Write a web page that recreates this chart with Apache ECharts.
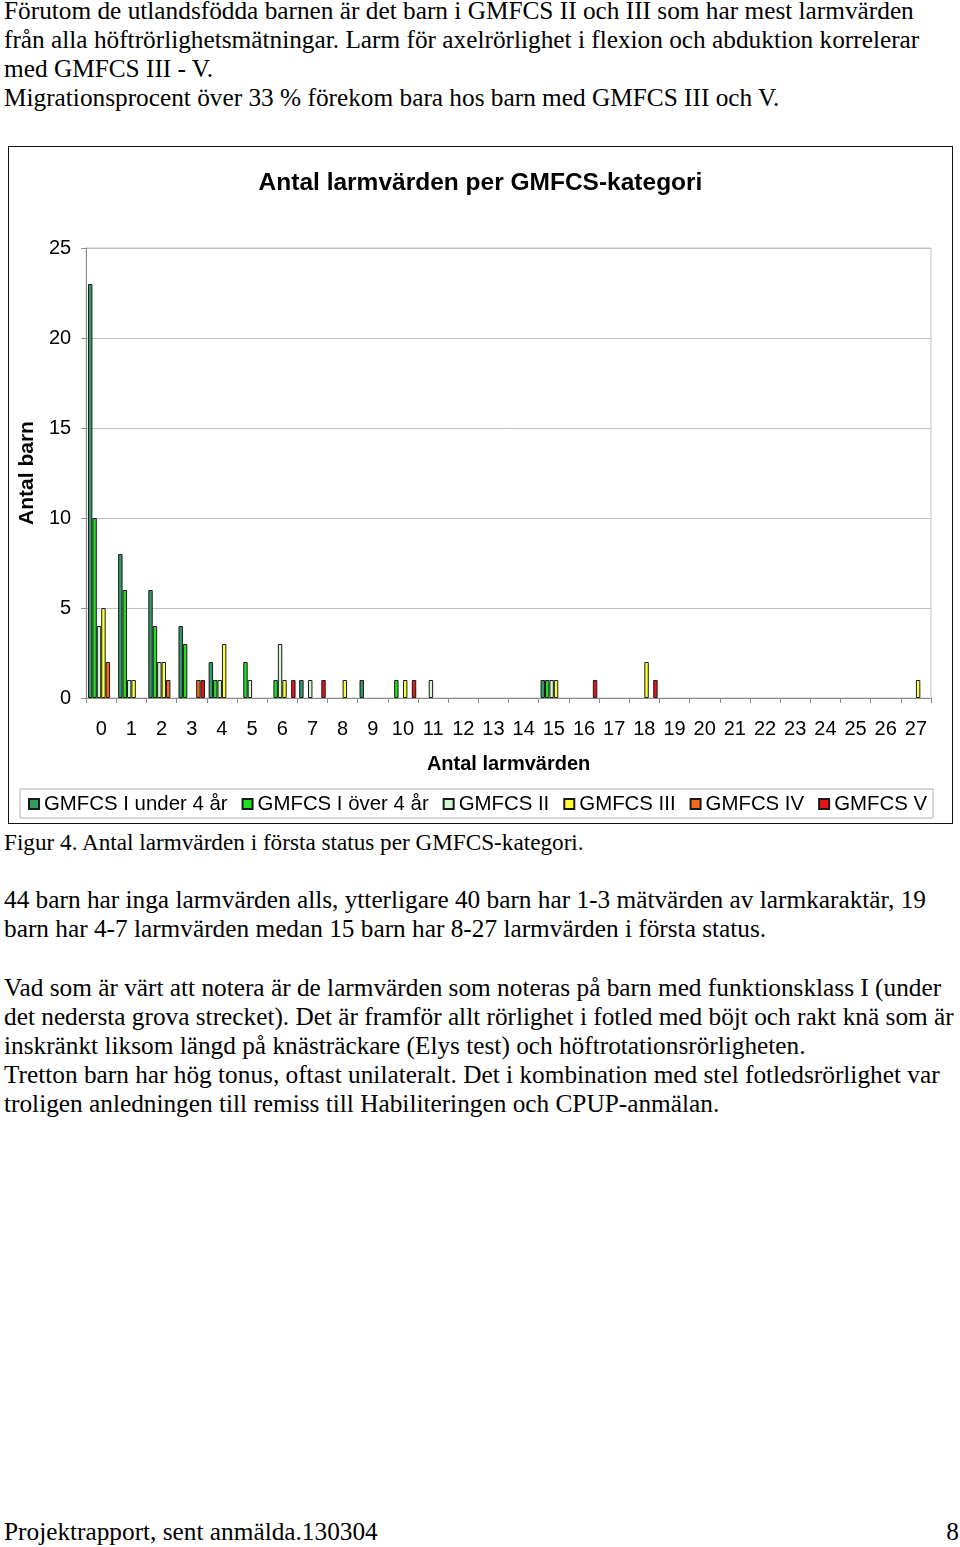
<!DOCTYPE html>
<html>
<head>
<meta charset="utf-8">
<script src="https://cdn.jsdelivr.net/npm/echarts@6/dist/echarts.min.js"></script>
<style>
  html, body { margin: 0; padding: 0; background: #fff; }
  body { width: 960px; height: 1547px; position: relative; overflow: hidden; }
  .t { position: absolute; left: 4px; font-family: "Liberation Serif", "Times New Roman", serif; font-size: 25.3px; line-height: 29px; white-space: nowrap; color: #000; }
  .cap { font-size: 23.2px; }
  #chart { position: absolute; left: 8px; top: 146px; width: 945px; height: 678px; box-sizing: border-box; border: 1px solid #111; }
</style>
</head>
<body>
<div class="t" style="top:-4px">Förutom de utlandsfödda barnen är det barn i GMFCS II och III som har mest larmvärden</div>
<div class="t" style="top:25px">från alla höftrörlighetsmätningar. Larm för axelrörlighet i flexion och abduktion korrelerar</div>
<div class="t" style="top:54px">med GMFCS III - V.</div>
<div class="t" style="top:83px">Migrationsprocent över 33 % förekom bara hos barn med GMFCS III och V.</div>
<div id="chart"></div>
<div class="t cap" style="top:828px">Figur 4. Antal larmvärden i första status per GMFCS-kategori.</div>
<div class="t" style="top:885px">44 barn har inga larmvärden alls, ytterligare 40 barn har 1-3 mätvärden av larmkaraktär, 19</div>
<div class="t" style="top:914px">barn har 4-7 larmvärden medan 15 barn har 8-27 larmvärden i första status.</div>
<div class="t" style="top:973px">Vad som är värt att notera är de larmvärden som noteras på barn med funktionsklass I (under</div>
<div class="t" style="top:1002px">det nedersta grova strecket). Det är framför allt rörlighet i fotled med böjt och rakt knä som är</div>
<div class="t" style="top:1031px">inskränkt liksom längd på knästräckare (Elys test) och höftrotationsrörligheten.</div>
<div class="t" style="top:1060px">Tretton barn har hög tonus, oftast unilateralt. Det i kombination med stel fotledsrörlighet var</div>
<div class="t" style="top:1089px">troligen anledningen till remiss till Habiliteringen och CPUP-anmälan.</div>
<div class="t" style="top:1517px">Projektrapport, sent anmälda.130304</div>
<div class="t" style="top:1517px; left:auto; right:1px">8</div>
<script>
// Categories: number of alarm values (0..27)
const categories = ['0','1','2','3','4','5','6','7','8','9','10','11','12','13','14','15','16','17','18','19','20','21','22','23','24','25','26','27'];
const seriesNames = ['GMFCS I under 4 år', 'GMFCS I över 4 år', 'GMFCS II', 'GMFCS III', 'GMFCS IV', 'GMFCS V'];
const gmfcsIUnder4 = [23, 8, 6, 4, 2, 0, 0, 1, 0, 1, 0, 0, 0, 0, 0, 1, 0, 0, 0, 0, 0, 0, 0, 0, 0, 0, 0, 0];
const gmfcsIOver4  = [10, 6, 4, 3, 1, 2, 1, 0, 0, 0, 1, 0, 0, 0, 0, 1, 0, 0, 0, 0, 0, 0, 0, 0, 0, 0, 0, 0];
const gmfcsII      = [ 4, 1, 2, 0, 1, 1, 3, 1, 0, 0, 0, 1, 0, 0, 0, 1, 0, 0, 0, 0, 0, 0, 0, 0, 0, 0, 0, 0];
const gmfcsIII     = [ 5, 1, 2, 0, 3, 0, 1, 0, 1, 0, 1, 0, 0, 0, 0, 1, 0, 0, 2, 0, 0, 0, 0, 0, 0, 0, 0, 1];
const gmfcsIV      = [ 2, 0, 1, 1, 0, 0, 0, 0, 0, 0, 0, 0, 0, 0, 0, 0, 0, 0, 0, 0, 0, 0, 0, 0, 0, 0, 0, 0];
const gmfcsV       = [ 0, 0, 0, 1, 0, 0, 1, 1, 0, 0, 1, 0, 0, 0, 0, 0, 1, 0, 1, 0, 0, 0, 0, 0, 0, 0, 0, 0];
const yTicks = [0, 5, 10, 15, 20, 25];

const allData = [gmfcsIUnder4, gmfcsIOver4, gmfcsII, gmfcsIII, gmfcsIV, gmfcsV];
const colors = ['#339966', '#1ee01e', '#d4f7d4', '#ffff33', '#f26a1b', '#e8141b'];

const chart = echarts.init(document.getElementById('chart'), null, { renderer: 'canvas' });
const font = '"Liberation Sans", Arial, sans-serif';
chart.setOption({
  animation: false,
  textStyle: { fontFamily: font, color: '#000' },
  title: {
    text: 'Antal larmvärden per GMFCS-kategori',
    left: 'center', top: 19,
    textStyle: { fontFamily: font, fontSize: 24.5, fontWeight: 'bold', color: '#000' }
  },
  grid: { left: 77, right: 21, top: 101, bottom: 125, show: true, borderColor: '#c0c0c0', borderWidth: 1, containLabel: false },
  legend: {
    left: 11, top: 642,
    padding: [5, 6, 4, 8],
    borderColor: '#b0b0b0', borderWidth: 1,
    itemWidth: 10, itemHeight: 10, itemGap: 14,
    icon: 'rect',
    textStyle: { fontFamily: font, fontSize: 20.4, color: '#000' },
    data: seriesNames
  },
  xAxis: {
    type: 'category',
    data: categories,
    name: 'Antal larmvärden',
    nameLocation: 'middle',
    nameGap: 56,
    nameTextStyle: { fontFamily: font, fontSize: 20, fontWeight: 'bold', color: '#000' },
    axisLine: { lineStyle: { color: '#8c8c8c', width: 1 } },
    axisTick: { show: true, alignWithLabel: false, length: 5, lineStyle: { color: '#8c8c8c' } },
    axisLabel: { fontFamily: font, fontSize: 20, color: '#000', margin: 21, interval: 0 }
  },
  yAxis: {
    type: 'value',
    min: yTicks[0], max: yTicks[yTicks.length - 1], interval: 5,
    name: 'Antal barn',
    nameLocation: 'middle',
    nameGap: 48,
    nameRotate: 90,
    nameTextStyle: { fontFamily: font, fontSize: 21, fontWeight: 'bold', color: '#000' },
    axisLine: { show: true, lineStyle: { color: '#8c8c8c', width: 1 } },
    axisTick: { show: true, length: 5, lineStyle: { color: '#8c8c8c' } },
    axisLabel: { fontFamily: font, fontSize: 20, color: '#000', margin: 15 },
    splitLine: { lineStyle: { color: '#c0c0c0', width: 1 } }
  },
  series: seriesNames.map((name, i) => ({
    name: name,
    type: 'bar',
    barGap: '0%',
    barCategoryGap: '12%',
    data: allData[i].map(v => (v === 0 ? null : v)),
    itemStyle: { color: colors[i], borderColor: '#1a1a1a', borderWidth: 1 }
  }))
});
</script>
</body>
</html>
